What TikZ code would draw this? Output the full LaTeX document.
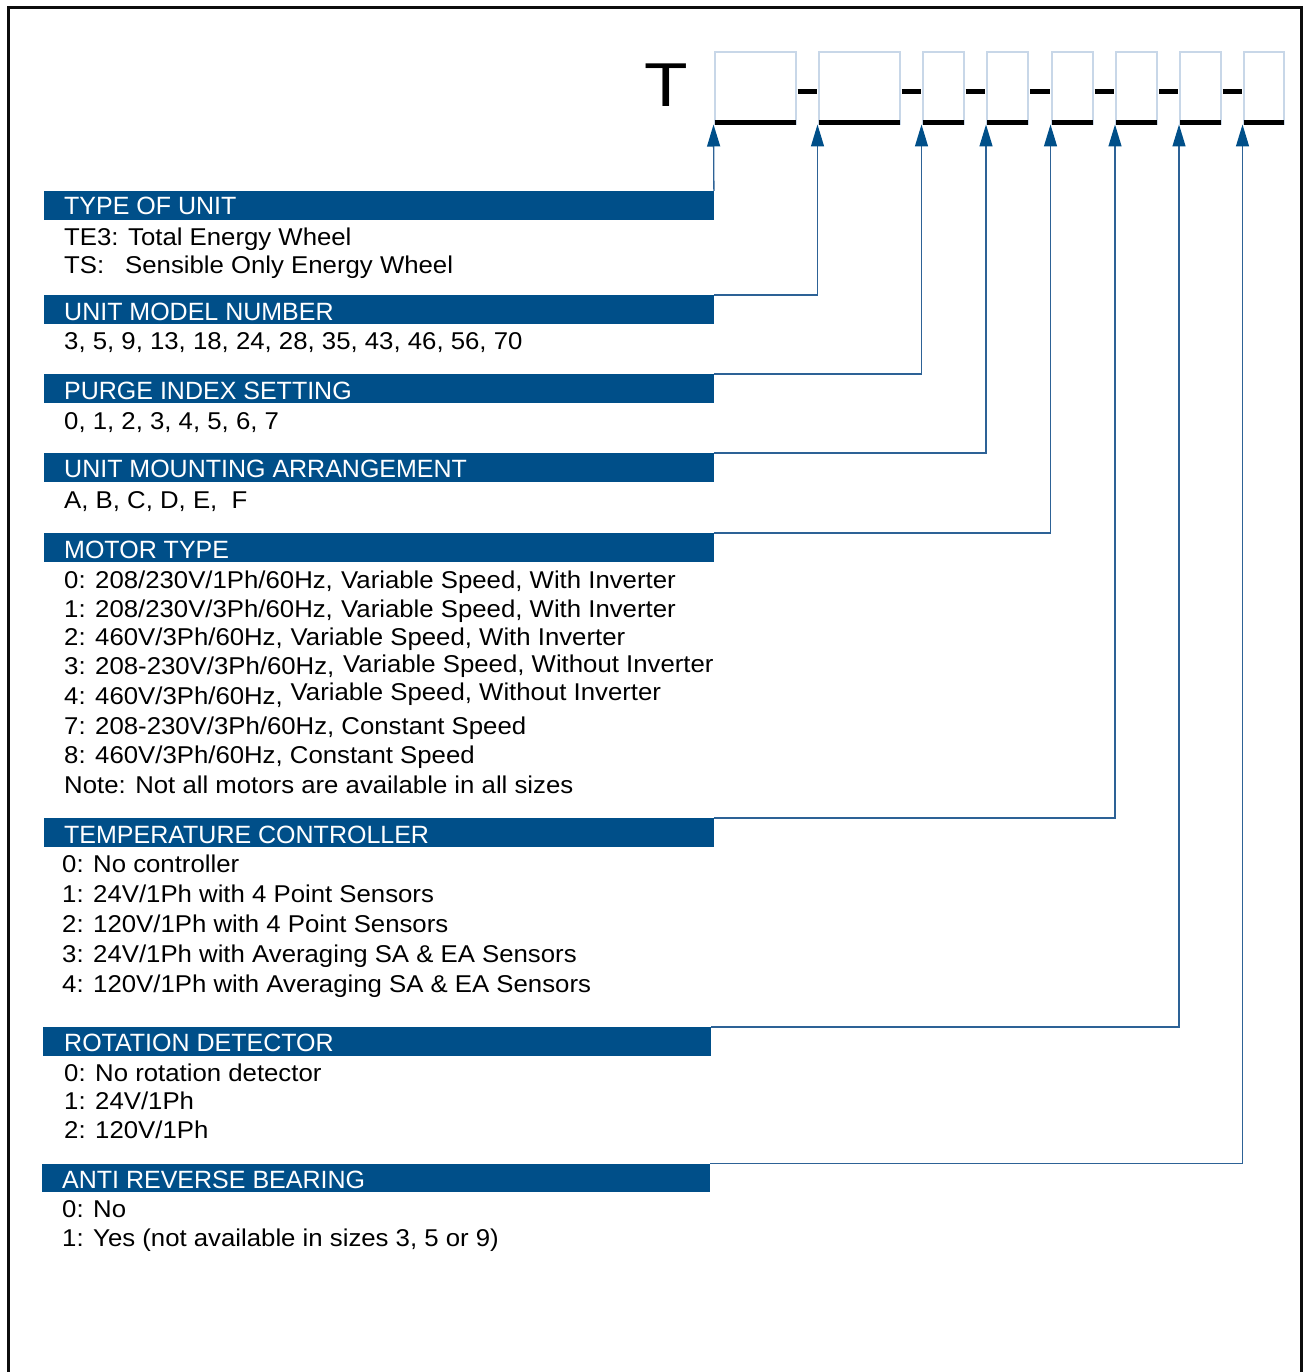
\documentclass[tikz,border=0pt]{standalone}
\usepackage{fontspec}
\setmainfont{Liberation Sans}[FakeStretch=1.06]
\newfontfamily\hdrfont{Liberation Sans}
\newfontfamily\bigTfont{Liberation Sans}[FakeStretch=1.15]
\usetikzlibrary{arrows.meta}
\definecolor{barblue}{RGB}{0,79,137}
\definecolor{lineblue}{RGB}{45,98,150}
\definecolor{boxline}{RGB}{200,215,232}
\tikzset{
  frame/.style={draw=black!95, line width=3pt},
  codebox/.style={draw=boxline, line width=2pt, fill=none, inner sep=0, anchor=north west, minimum height=72pt},
  uline/.style={draw=black, line width=5pt},
  dashbar/.style={draw=black, line width=4.5pt},
  bar/.style={fill=barblue, draw=none, inner sep=0, anchor=north west, minimum height=28.5pt, minimum width=669.5pt},
  title/.style={text=white, anchor=base west, inner sep=0, font=\hdrfont\fontsize{25}{30}\selectfont},
  body/.style={text=black, anchor=base west, inner sep=0, font=\fontsize{24.3}{30}\selectfont},
  conn/.style={draw=lineblue, line width=1.3pt, shorten >=-0.5pt, -{Triangle[length=22pt,width=13pt,color=barblue]}},
}
\begin{document}
\begin{tikzpicture}[x=1pt,y=-1pt]
\useasboundingbox (0,0) rectangle (1304,1372);
% outer frame, open at the bottom
\draw[frame] (8.6,1380) -- (8.6,7.3) -- (1301.3,7.3) -- (1301.3,1380);

% model code header
\node[font=\bigTfont\fontsize{62}{62}\selectfont, anchor=base west, inner sep=0] (T) at (644,106.7) {T};
\node[codebox, minimum width=81pt] (b1) at (713.5,51) {};
\node[codebox, minimum width=81pt] (b2) at (817.5,51) {};
\node[codebox, minimum width=41pt] (b3) at (921.5,51) {};
\node[codebox, minimum width=41pt] (b4) at (986,51) {};
\node[codebox, minimum width=41pt] (b5) at (1050.5,51) {};
\node[codebox, minimum width=41pt] (b6) at (1115,51) {};
\node[codebox, minimum width=40.5pt] (b7) at (1179,51) {};
\node[codebox, minimum width=40.5pt] (b8) at (1242.5,51) {};
\foreach \b in {b1,b2,b3,b4,b5,b6,b7,b8}{
  \draw[uline] ([xshift=1pt,yshift=2.5pt]\b.south west) -- ([xshift=-1pt,yshift=2.5pt]\b.south east);
}
\foreach \a/\b in {b1/b2,b2/b3,b3/b4,b4/b5,b5/b6,b6/b7,b7/b8}{
  \draw[dashbar] ([xshift=1pt,yshift=-3.5pt]\a.east) -- ([xshift=-1pt,yshift=-3.5pt]\b.west);
}

% sections
\node[bar] (s1) at (44,191) {};
\node[title] (t1) at (64,215) {TYPE OF UNIT};
\node[body] (l1a) at (64,246) {TE3: Total Energy Wheel};
\node[body] (l1b) at (64,273.5) {TS:};
\node[body] (l1c) at (125,273.5) {Sensible Only Energy Wheel};

\node[bar] (s2) at (44,295) {};
\node[title] (t2) at (64,320) {UNIT MODEL NUMBER};
\node[body] (l2a) at (64,349) {3, 5, 9, 13, 18, 24, 28, 35, 43, 46, 56, 70};

\node[bar] (s3) at (44,374) {};
\node[title] (t3) at (64,399) {PURGE INDEX SETTING};
\node[body] (l3a) at (64,429) {0, 1, 2, 3, 4, 5, 6, 7};

\node[bar] (s4) at (44,453) {};
\node[title] (t4) at (64,477.5) {UNIT MOUNTING ARRANGEMENT};
\node[body] (l4a) at (64,508) {A, B, C, D, E,\ \ F};

\node[bar] (s5) at (44,533) {};
\node[title] (t5) at (64,558) {MOTOR TYPE};
\node[body] (m0a) at (64,588.5) {0: 208/230V/1Ph/60Hz,};
\node[body] (m0b) at (341,588.5) {Variable Speed, With Inverter};
\node[body] (m1a) at (64,617) {1: 208/230V/3Ph/60Hz,};
\node[body] (m1b) at (341,617) {Variable Speed, With Inverter};
\node[body] (m2a) at (64,645.7) {2: 460V/3Ph/60Hz,};
\node[body] (m2b) at (290.5,645.7) {Variable Speed, With Inverter};
\node[body] (m3a) at (64,674.5) {3: 208-230V/3Ph/60Hz,};
\node[body] (m3b) at (343,672.5) {Variable Speed, Without Inverter};
\node[body] (m4a) at (64,704.5) {4: 460V/3Ph/60Hz,};
\node[body] (m4b) at (290.5,700.5) {Variable Speed, Without Inverter};
\node[body] (m7) at (64,734.3) {7: 208-230V/3Ph/60Hz, Constant Speed};
\node[body] (m8) at (64,763.3) {8: 460V/3Ph/60Hz, Constant Speed};
\node[body] (mn) at (64,793.3) {Note: Not all motors are available in all sizes};

\node[bar] (s6) at (44,818) {};
\node[title] (t6) at (64,843) {TEMPERATURE CONTROLLER};
\node[body] (c0) at (62,872) {0: No controller};
\node[body] (c1) at (62,902) {1: 24V/1Ph with 4 Point Sensors};
\node[body] (c2) at (62,932) {2: 120V/1Ph with 4 Point Sensors};
\node[body] (c3) at (62,962) {3: 24V/1Ph with Averaging SA \& EA Sensors};
\node[body] (c4) at (62,992) {4: 120V/1Ph with Averaging SA \& EA Sensors};

\node[bar, minimum width=668pt] (s7) at (43,1027) {};
\node[title] (t7) at (64,1051) {ROTATION DETECTOR};
\node[body] (r0) at (64,1081) {0: No rotation detector};
\node[body] (r1) at (64,1109.5) {1: 24V/1Ph};
\node[body] (r2) at (64,1138) {2: 120V/1Ph};

\node[bar, minimum width=668pt] (s8) at (42,1163.5) {};
\node[title] (t8) at (62,1188) {ANTI REVERSE BEARING};
\node[body] (a0) at (62,1217) {0: No};
\node[body] (a1) at (62,1246) {1: Yes (not available in sizes 3, 5 or 9)};

% connectors
\draw[conn] (s1.north east) -- (b1.south west);
\draw[conn] (s2.north east) -| (b2.south west);
\draw[conn] (s3.north east) -| (b3.south west);
\draw[conn] (s4.north east) -| (b4.south west);
\draw[conn] (s5.north east) -| (b5.south west);
\draw[conn] (s6.north east) -| (b6.south west);
\draw[conn] (s7.north east) -| (b7.south west);
\draw[conn] (s8.north east) -| (b8.south west);
\end{tikzpicture}
\end{document}
